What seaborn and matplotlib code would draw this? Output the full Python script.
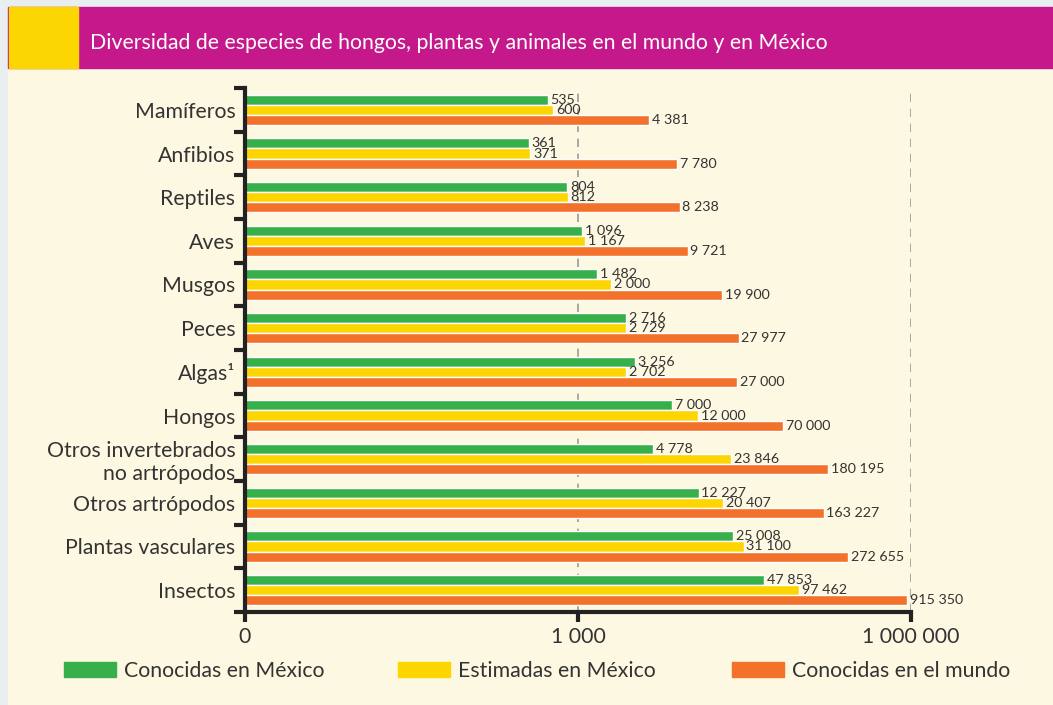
import numpy as np
import pandas as pd
import matplotlib.pyplot as plt
import matplotlib.patches as mpatches
import seaborn as sns

# datos de la figura
grupos = ['Mamíferos', 'Anfibios', 'Reptiles', 'Aves', 'Musgos', 'Peces', 'Algas¹',
          'Hongos', 'Otros invertebrados\nno artrópodos', 'Otros artrópodos',
          'Plantas vasculares', 'Insectos']
conocidas_mexico = [535, 361, 804, 1096, 1482, 2716, 3256, 7000, 4778, 12227, 25008, 47853]
estimadas_mexico = [600, 371, 812, 1167, 2000, 2729, 2702, 12000, 23846, 20407, 31100, 97462]
conocidas_mundo = [4381, 7780, 8238, 9721, 19900, 27977, 27000, 70000, 180195, 163227, 272655, 915350]
series = ['Conocidas en México', 'Estimadas en México', 'Conocidas en el mundo']
colores = ['#37B04B', '#FDD500', '#F3722B']

df = pd.DataFrame({
    'grupo': grupos * 3,
    'valor': conocidas_mexico + estimadas_mexico + conocidas_mundo,
    'serie': np.repeat(series, len(grupos)),
})

def miles(v):
    return f'{v:,}'.replace(',', ' ')

sns.set_style('white')
plt.rcParams['font.family'] = ['Lato', 'DejaVu Sans']
texto = '#333333'
fs = 15.3

fig = plt.figure(figsize=(10.53, 7.05), dpi=100)
fig.patch.set_facecolor('#E9EFF1')
W, H = 1053, 705
# fondo crema y encabezado
fig.patches.append(mpatches.Rectangle((8 / W, 0), 1, 1 - 68 / H, transform=fig.transFigure,
                                      color='#FDF8E2', zorder=-10))
fig.patches.append(mpatches.Rectangle((8 / W, 1 - 68 / H), 1, 61 / H, transform=fig.transFigure,
                                      color='#C5198B', zorder=-9))
fig.patches.append(mpatches.Rectangle((9 / W, 1 - 68 / H), 69 / W, 61 / H, transform=fig.transFigure,
                                      color='#FCD600', zorder=-8))
fig.text(90 / W, 1 - 43 / H, 'Diversidad de especies de hongos, plantas y animales en el mundo y en México',
         color='white', fontsize=fs, va='center', ha='left')

ax = fig.add_axes([245 / W, 1 - 612 / H, (911 - 245) / W, 524 / H])
ax.set_facecolor('none')
sns.barplot(data=df, y='grupo', x='valor', hue='serie', hue_order=series, palette=colores,
            orient='h', width=0.69, gap=0, log_scale=True, legend=False, ax=ax, saturation=1)

# las barras arrancan en 1 (el "0" del eje logarítmico)
for p in ax.patches:
    w = p.get_width()
    if w > 0:
        p.set_x(1)
        p.set_width(w - 1)

ax.set_xlim(1, 1e6)
ax.set_ylim(11.5, -0.5)
for cont, vals in zip(ax.containers, [conocidas_mexico, estimadas_mexico, conocidas_mundo]):
    ax.bar_label(cont, labels=[miles(v) for v in vals], padding=2, fontsize=10.3, color=texto)

ax.set_xticks([1, 1e3, 1e6])
ax.set_xticklabels(['0', '1 000', '1 000 000'], fontsize=fs, color=texto)
ax.xaxis.set_minor_locator(plt.NullLocator())
ax.tick_params(axis='x', which='major', bottom=True, direction='out', length=7, width=3,
               color='#222222', pad=4)
for xv in [1e3, 1e6]:
    ax.axvline(xv, color='#9A9A9A', lw=1.2, ls=(0, (5, 4)), zorder=0)

ax.set_yticks(range(len(grupos)))
ax.set_yticklabels(grupos, fontsize=fs, color=texto, linespacing=1.2)
ax.set_yticks(np.arange(-0.5, len(grupos), 1), minor=True)
ax.tick_params(axis='y', which='major', left=False, length=0, pad=7)
ax.tick_params(axis='y', which='minor', left=True, direction='out', length=8, width=3, color='#222222')
ax.set_xlabel('')
ax.set_ylabel('')

for s in ['top', 'right']:
    ax.spines[s].set_visible(False)
for s in ['left', 'bottom']:
    ax.spines[s].set_linewidth(3)
    ax.spines[s].set_color('#222222')

# leyenda
for serie, color, x0 in zip(series, colores, [64, 398, 732]):
    fig.legend(handles=[mpatches.Patch(color=color, label=serie)], loc='center left',
               bbox_to_anchor=(x0 / W, 1 - 671 / H), frameon=False, fontsize=fs,
               handlelength=2.45, handleheight=0.68, handletextpad=0.35, borderpad=0,
               borderaxespad=0, labelcolor=texto)

fig.savefig('out.png', dpi=100, facecolor=fig.get_facecolor())
